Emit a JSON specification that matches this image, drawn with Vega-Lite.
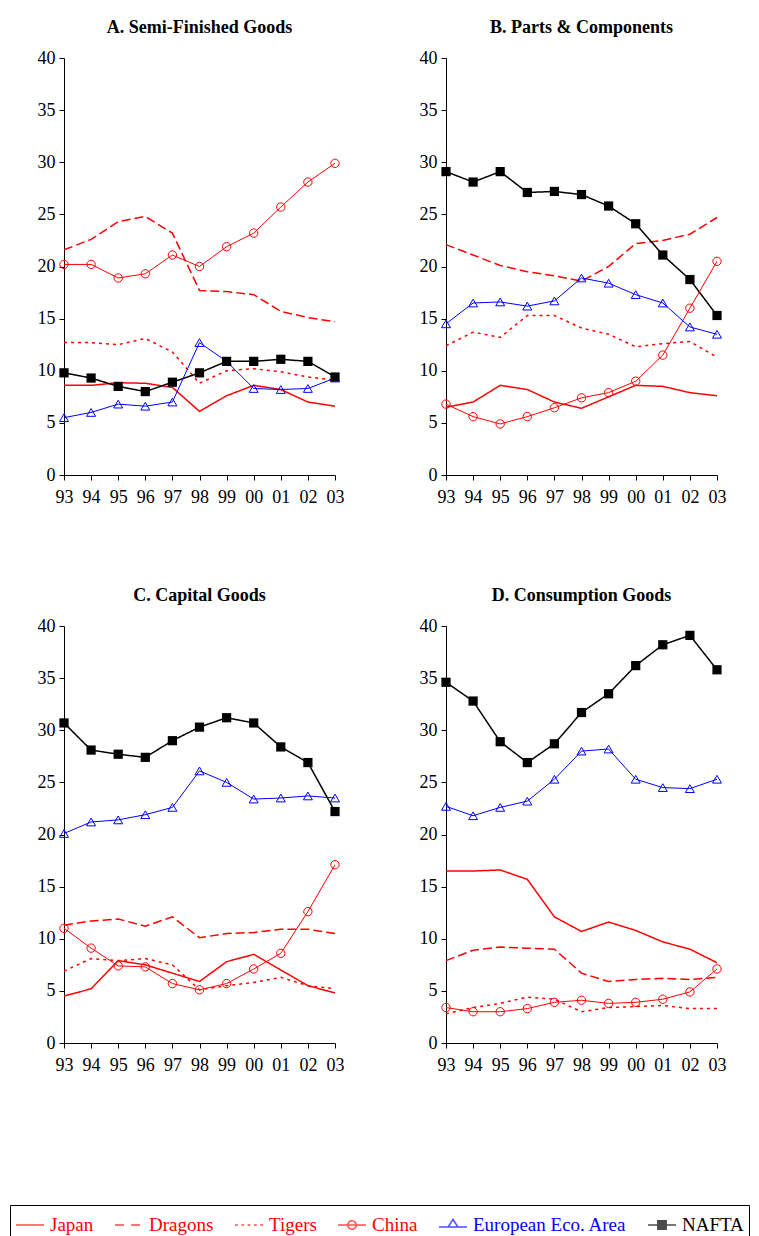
{
  "$schema": "https://vega.github.io/schema/vega-lite/v6.json",
  "padding": {"left": 9, "top": 19, "right": 0, "bottom": 0},
  "background": "white",
  "data": {"values": [
    {"p":"A. Semi-Finished Goods","year":1993,"Japan":8.6,"Dragons":21.6,"Tigers":12.7,"China":20.2,"EEA":5.5,"NAFTA":9.8},
    {"p":"A. Semi-Finished Goods","year":1994,"Japan":8.6,"Dragons":22.6,"Tigers":12.7,"China":20.2,"EEA":6.0,"NAFTA":9.3},
    {"p":"A. Semi-Finished Goods","year":1995,"Japan":8.85,"Dragons":24.3,"Tigers":12.5,"China":18.9,"EEA":6.8,"NAFTA":8.5},
    {"p":"A. Semi-Finished Goods","year":1996,"Japan":8.8,"Dragons":24.8,"Tigers":13.1,"China":19.3,"EEA":6.6,"NAFTA":8.0},
    {"p":"A. Semi-Finished Goods","year":1997,"Japan":8.4,"Dragons":23.2,"Tigers":11.8,"China":21.1,"EEA":7.0,"NAFTA":8.9},
    {"p":"A. Semi-Finished Goods","year":1998,"Japan":6.1,"Dragons":17.7,"Tigers":8.8,"China":20.0,"EEA":12.7,"NAFTA":9.8},
    {"p":"A. Semi-Finished Goods","year":1999,"Japan":7.6,"Dragons":17.6,"Tigers":10.0,"China":21.9,"EEA":10.9,"NAFTA":10.9},
    {"p":"A. Semi-Finished Goods","year":2000,"Japan":8.6,"Dragons":17.3,"Tigers":10.2,"China":23.2,"EEA":8.3,"NAFTA":10.9},
    {"p":"A. Semi-Finished Goods","year":2001,"Japan":8.2,"Dragons":15.7,"Tigers":9.9,"China":25.7,"EEA":8.2,"NAFTA":11.1},
    {"p":"A. Semi-Finished Goods","year":2002,"Japan":7.0,"Dragons":15.1,"Tigers":9.4,"China":28.1,"EEA":8.3,"NAFTA":10.9},
    {"p":"A. Semi-Finished Goods","year":2003,"Japan":6.6,"Dragons":14.7,"Tigers":9.1,"China":29.9,"EEA":9.3,"NAFTA":9.4},
    {"p":"B. Parts & Components","year":1993,"Japan":6.5,"Dragons":22.1,"Tigers":12.4,"China":6.8,"EEA":14.5,"NAFTA":29.1},
    {"p":"B. Parts & Components","year":1994,"Japan":7.0,"Dragons":21.1,"Tigers":13.7,"China":5.6,"EEA":16.5,"NAFTA":28.1},
    {"p":"B. Parts & Components","year":1995,"Japan":8.6,"Dragons":20.1,"Tigers":13.2,"China":4.9,"EEA":16.6,"NAFTA":29.1},
    {"p":"B. Parts & Components","year":1996,"Japan":8.2,"Dragons":19.5,"Tigers":15.3,"China":5.6,"EEA":16.2,"NAFTA":27.1},
    {"p":"B. Parts & Components","year":1997,"Japan":7.0,"Dragons":19.1,"Tigers":15.3,"China":6.45,"EEA":16.7,"NAFTA":27.2},
    {"p":"B. Parts & Components","year":1998,"Japan":6.4,"Dragons":18.6,"Tigers":14.1,"China":7.4,"EEA":18.9,"NAFTA":26.9},
    {"p":"B. Parts & Components","year":1999,"Japan":7.5,"Dragons":20.0,"Tigers":13.5,"China":7.9,"EEA":18.4,"NAFTA":25.8},
    {"p":"B. Parts & Components","year":2000,"Japan":8.6,"Dragons":22.2,"Tigers":12.3,"China":9.0,"EEA":17.3,"NAFTA":24.1},
    {"p":"B. Parts & Components","year":2001,"Japan":8.5,"Dragons":22.5,"Tigers":12.6,"China":11.5,"EEA":16.5,"NAFTA":21.1},
    {"p":"B. Parts & Components","year":2002,"Japan":7.9,"Dragons":23.1,"Tigers":12.8,"China":16.0,"EEA":14.2,"NAFTA":18.75},
    {"p":"B. Parts & Components","year":2003,"Japan":7.6,"Dragons":24.7,"Tigers":11.3,"China":20.5,"EEA":13.5,"NAFTA":15.3},
    {"p":"C. Capital Goods","year":1993,"Japan":4.5,"Dragons":11.3,"Tigers":6.9,"China":11.0,"EEA":20.1,"NAFTA":30.7},
    {"p":"C. Capital Goods","year":1994,"Japan":5.2,"Dragons":11.7,"Tigers":8.1,"China":9.1,"EEA":21.2,"NAFTA":28.1},
    {"p":"C. Capital Goods","year":1995,"Japan":7.9,"Dragons":11.9,"Tigers":7.9,"China":7.4,"EEA":21.4,"NAFTA":27.7},
    {"p":"C. Capital Goods","year":1996,"Japan":7.5,"Dragons":11.2,"Tigers":8.1,"China":7.3,"EEA":21.9,"NAFTA":27.4},
    {"p":"C. Capital Goods","year":1997,"Japan":6.7,"Dragons":12.1,"Tigers":7.5,"China":5.7,"EEA":22.6,"NAFTA":29.0},
    {"p":"C. Capital Goods","year":1998,"Japan":5.9,"Dragons":10.1,"Tigers":5.1,"China":5.1,"EEA":26.1,"NAFTA":30.3},
    {"p":"C. Capital Goods","year":1999,"Japan":7.8,"Dragons":10.5,"Tigers":5.5,"China":5.7,"EEA":25.0,"NAFTA":31.2},
    {"p":"C. Capital Goods","year":2000,"Japan":8.5,"Dragons":10.6,"Tigers":5.8,"China":7.1,"EEA":23.4,"NAFTA":30.7},
    {"p":"C. Capital Goods","year":2001,"Japan":7.0,"Dragons":10.9,"Tigers":6.3,"China":8.6,"EEA":23.5,"NAFTA":28.4},
    {"p":"C. Capital Goods","year":2002,"Japan":5.5,"Dragons":10.9,"Tigers":5.5,"China":12.6,"EEA":23.7,"NAFTA":26.9},
    {"p":"C. Capital Goods","year":2003,"Japan":4.8,"Dragons":10.5,"Tigers":5.2,"China":17.1,"EEA":23.5,"NAFTA":22.2},
    {"p":"D. Consumption Goods","year":1993,"Japan":16.5,"Dragons":7.9,"Tigers":2.8,"China":3.4,"EEA":22.7,"NAFTA":34.6},
    {"p":"D. Consumption Goods","year":1994,"Japan":16.5,"Dragons":8.9,"Tigers":3.4,"China":3.0,"EEA":21.8,"NAFTA":32.8},
    {"p":"D. Consumption Goods","year":1995,"Japan":16.6,"Dragons":9.2,"Tigers":3.8,"China":3.0,"EEA":22.6,"NAFTA":28.9},
    {"p":"D. Consumption Goods","year":1996,"Japan":15.7,"Dragons":9.1,"Tigers":4.4,"China":3.3,"EEA":23.2,"NAFTA":26.9},
    {"p":"D. Consumption Goods","year":1997,"Japan":12.1,"Dragons":9.0,"Tigers":4.2,"China":3.9,"EEA":25.3,"NAFTA":28.7},
    {"p":"D. Consumption Goods","year":1998,"Japan":10.7,"Dragons":6.7,"Tigers":3.0,"China":4.1,"EEA":28.0,"NAFTA":31.7},
    {"p":"D. Consumption Goods","year":1999,"Japan":11.6,"Dragons":5.9,"Tigers":3.4,"China":3.8,"EEA":28.2,"NAFTA":33.5},
    {"p":"D. Consumption Goods","year":2000,"Japan":10.8,"Dragons":6.1,"Tigers":3.5,"China":3.9,"EEA":25.3,"NAFTA":36.2},
    {"p":"D. Consumption Goods","year":2001,"Japan":9.7,"Dragons":6.2,"Tigers":3.6,"China":4.2,"EEA":24.5,"NAFTA":38.2},
    {"p":"D. Consumption Goods","year":2002,"Japan":9.0,"Dragons":6.1,"Tigers":3.3,"China":4.9,"EEA":24.4,"NAFTA":39.1},
    {"p":"D. Consumption Goods","year":2003,"Japan":7.7,"Dragons":6.3,"Tigers":3.3,"China":7.1,"EEA":25.3,"NAFTA":35.8}
  ]},
  "transform": [
    {"fold": ["Japan","Dragons","Tigers","China","EEA","NAFTA"], "as": ["series","value"]}
  ],
  "facet": {
    "field": "p", "type": "nominal",
    "header": {"title": null, "labelFont": "Liberation Serif", "labelFontSize": 18, "labelFontWeight": "bold", "labelColor": "black", "labelPadding": 12}
  },
  "columns": 2,
  "spacing": {"column": 75, "row": 81},
  "resolve": {"axis": {"x": "independent", "y": "independent"}},
  "spec": {
    "width": 271,
    "height": 417,
    "encoding": {
      "x": {"field": "year", "type": "quantitative", "scale": {"domain": [1993, 2003], "nice": false, "zero": false},
        "axis": {"values": [1993,1994,1995,1996,1997,1998,1999,2000,2001,2002,2003], "format": "d", "labelExpr": "substring(datum.label, 2)", "labelAngle": 0, "labelPadding": 8, "labelFlush": false, "labelOverlap": false}},
      "y": {"field": "value", "type": "quantitative", "scale": {"domain": [0, 40], "nice": false},
        "axis": {"values": [0,5,10,15,20,25,30,35,40], "labelFlush": false}}
    },
    "layer": [
      {
        "mark": {"type": "point", "size": 0, "filled": false, "color": "#ff0000", "strokeWidth": 1.5},
        "encoding": {
          "shape": {"field": "series", "type": "nominal",
            "scale": {"domain": ["Japan","Dragons","Tigers","China","EEA","NAFTA"],
              "range": [
                "M-1,0H1",
                "M-1,0H-0.15M0.15,0H1",
                "M-1,0H-0.8M-0.55,0H-0.35M-0.1,0H0.1M0.35,0H0.55M0.8,0H1",
                "M-1,0H1M0.3,0A0.3,0.3 0 1,1 -0.3,0A0.3,0.3 0 1,1 0.3,0",
                "M-1,0.15H1M0,-0.4L0.35,0.15L-0.35,0.15Z",
                "M-1,0H1M-0.3,-0.3H0.3V0.3H-0.3ZM-0.3,-0.2H0.3M-0.3,-0.1H0.3M-0.3,0.1H0.3M-0.3,0.2H0.3"
              ]},
            "legend": {
              "title": null,
              "orient": "none",
              "legendX": -54,
              "legendY": 1147,
              "direction": "horizontal",
              "columns": 6,
              "symbolSize": 784,
              "symbolStrokeWidth": 1.5,
              "labelFont": "Liberation Serif",
              "labelFontSize": 19,
              "labelColor": {"expr": "datum.value === 'EEA' ? '#0000ff' : datum.value === 'NAFTA' ? '#000000' : '#ff0000'"},
              "labelLimit": 300,
              "labelOffset": 5,
              "columnPadding": 18,
              "strokeColor": "black",
              "padding": 5,
              "labelExpr": "datum.label === 'EEA' ? 'European Eco. Area' : datum.label"
            }
          }
        }
      },
      {
        "transform": [{"filter": "datum.series !== 'China' && datum.series !== 'EEA'"}],
        "mark": {"type": "line", "strokeWidth": 1.5},
        "encoding": {
          "color": {"field": "series", "type": "nominal", "legend": null,
            "scale": {"domain": ["Japan","Dragons","Tigers","China","EEA","NAFTA"], "range": ["#ff0000","#ff0000","#ff0000","#ff0000","#0000ff","#000000"]}},
          "strokeDash": {"field": "series", "type": "nominal", "legend": null,
            "scale": {"domain": ["Japan","Dragons","Tigers","China","EEA","NAFTA"], "range": [[1,0],[9,4],[3,4],[1,0],[1,0],[1,0]]}}
        }
      },
      {
        "transform": [{"filter": "datum.series === 'China' || datum.series === 'EEA'"}],
        "mark": {"type": "line", "strokeWidth": 1},
        "encoding": {
          "color": {"field": "series", "type": "nominal", "legend": null},
          "detail": {"field": "series"}
        }
      },
      {
        "transform": [{"filter": "datum.series === 'China'"}],
        "mark": {"type": "point", "shape": "circle", "size": 70, "strokeWidth": 1, "color": "#ff0000", "filled": false, "opacity": 1},
        "encoding": {}
      },
      {
        "transform": [{"filter": "datum.series === 'EEA'"}],
        "mark": {"type": "point", "shape": "triangle-up", "size": 80, "strokeWidth": 1, "color": "#0000ff", "filled": false, "opacity": 1},
        "encoding": {}
      },
      {
        "transform": [{"filter": "datum.series === 'NAFTA'"}],
        "mark": {"type": "point", "shape": "square", "size": 85, "color": "#000000", "filled": true, "opacity": 1},
        "encoding": {}
      }
    ]
  },
  "config": {
    "view": {"stroke": null},
    "axis": {"labelFont": "Liberation Serif", "labelFontSize": 18, "labelColor": "black", "domainColor": "black", "tickColor": "black", "grid": false, "title": null, "tickSize": 5, "labelPadding": 4, "domainWidth": 1, "tickWidth": 1}
  }
}
